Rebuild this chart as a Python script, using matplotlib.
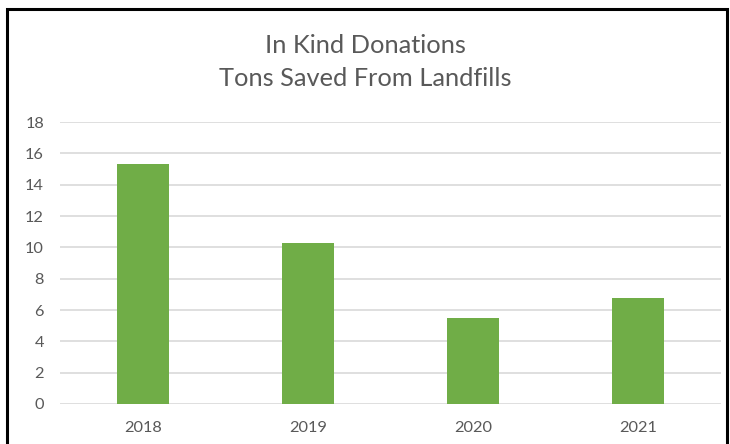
import matplotlib
matplotlib.use("Agg")
import matplotlib.pyplot as plt
from matplotlib.patches import Rectangle

# data
years = ["2018", "2019", "2020", "2021"]
tons = [15.3, 10.3, 5.5, 6.75]
yticks = [0, 2, 4, 6, 8, 10, 12, 14, 16, 18]

plt.rcParams['font.family'] = ['Lato', 'DejaVu Sans']
textColor = "#595959"
barColor = "#70ad47"
gridColor = "#d9d9d9"

fig = plt.figure(figsize=(7.3, 4.44), dpi=100)
ax = fig.add_axes([0.0822, 0.0901, 0.9055, 0.6351])

ax.bar(range(len(years)), tons, width=0.315, color=barColor, zorder=3)
ax.set_xlim(-0.5, len(years) - 0.5)
ax.set_ylim(0, 18)
ax.set_yticks(yticks)
ax.set_xticks(range(len(years)))
ax.set_xticklabels(years)

ax.grid(axis="y", color=gridColor, linewidth=1.2, zorder=0)
for s in ax.spines.values():
    s.set_visible(False)
ax.tick_params(axis="both", length=0, colors=textColor, labelsize=11.8)
ax.tick_params(axis="y", pad=11.5)
ax.tick_params(axis="x", pad=12)

fig.text(0.5, 0.897, "In Kind Donations", ha="center", va="center",
         fontsize=18.3, color=textColor)
fig.text(0.5, 0.823, "Tons Saved From Landfills", ha="center", va="center",
         fontsize=18.3, color=textColor)

# chart frame (bottom edge cut off in the reference)
fig.patches.append(Rectangle((0.0095, -0.05), 0.987, 1.029, transform=fig.transFigure,
                             fill=False, edgecolor="black", linewidth=2.2, zorder=10))

fig.savefig("out.png", dpi=100)
